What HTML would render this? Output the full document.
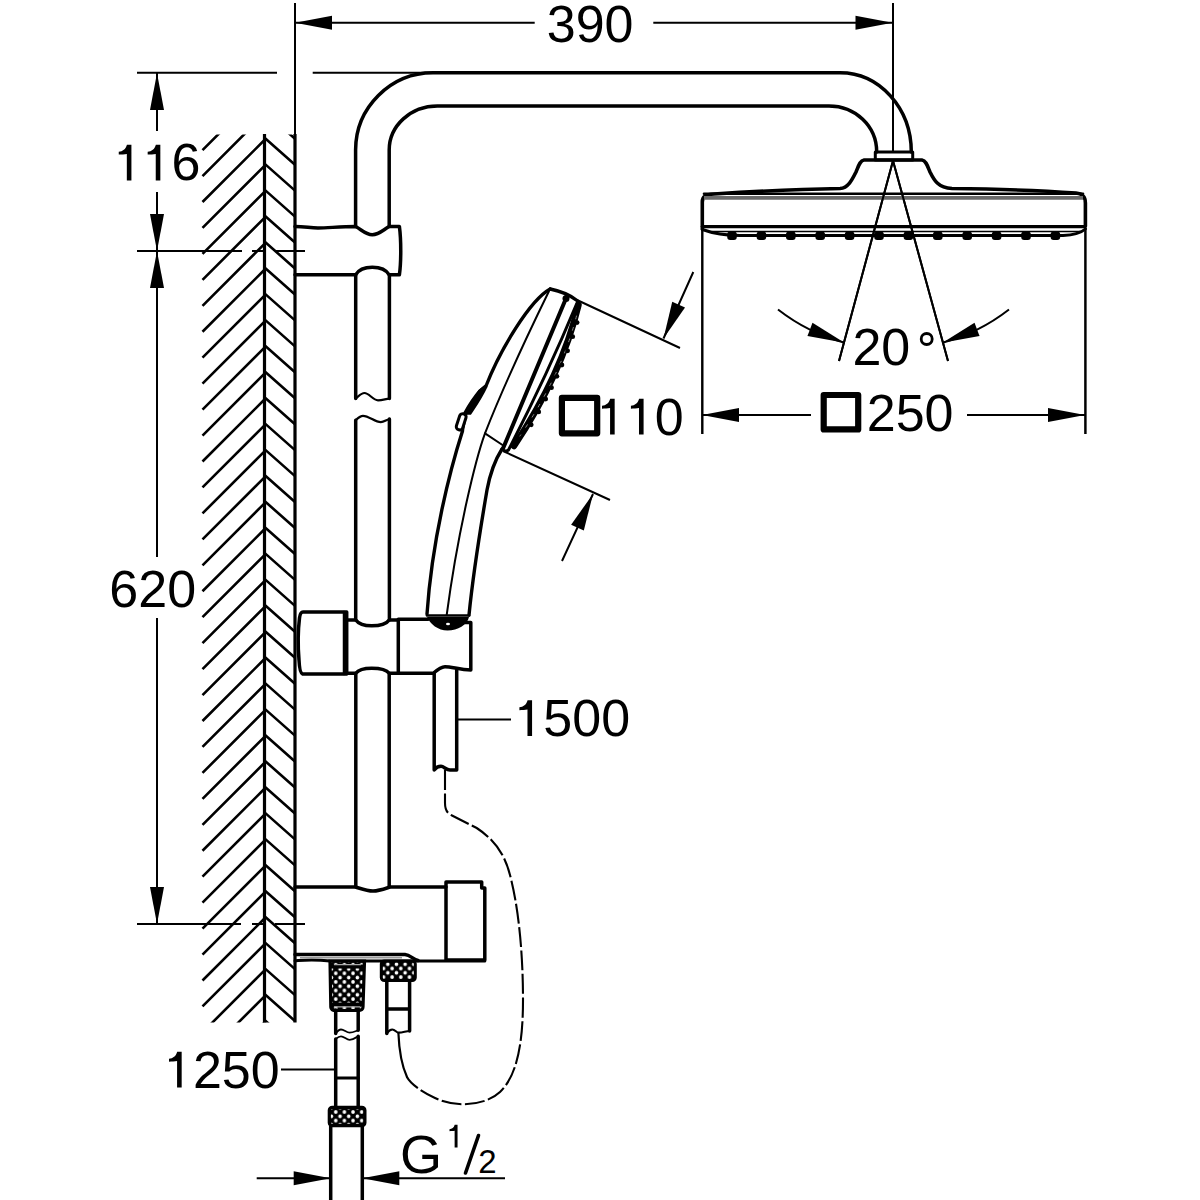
<!DOCTYPE html>
<html><head><meta charset="utf-8"><style>
html,body{margin:0;padding:0;background:#fff;width:1200px;height:1200px;overflow:hidden}
svg{display:block}
</style></head><body>
<svg width="1200" height="1200" viewBox="0 0 1200 1200">
<clipPath id="wc"><rect x="200" y="134.5" width="96" height="888"/></clipPath>
<path clip-path="url(#wc)" d="M202.5 124.15 L264.5 62.15 M202.5 150.10 L264.5 88.10 M202.5 176.05 L264.5 114.05 M202.5 202.00 L264.5 140.00 M202.5 227.95 L264.5 165.95 M202.5 253.90 L264.5 191.90 M202.5 279.85 L264.5 217.85 M202.5 305.80 L264.5 243.80 M202.5 331.75 L264.5 269.75 M202.5 357.70 L264.5 295.70 M202.5 383.65 L264.5 321.65 M202.5 409.60 L264.5 347.60 M202.5 435.55 L264.5 373.55 M202.5 461.50 L264.5 399.50 M202.5 487.45 L264.5 425.45 M202.5 513.40 L264.5 451.40 M202.5 539.35 L264.5 477.35 M202.5 565.30 L264.5 503.30 M202.5 591.25 L264.5 529.25 M202.5 617.20 L264.5 555.20 M202.5 643.15 L264.5 581.15 M202.5 669.10 L264.5 607.10 M202.5 695.05 L264.5 633.05 M202.5 721.00 L264.5 659.00 M202.5 746.95 L264.5 684.95 M202.5 772.90 L264.5 710.90 M202.5 798.85 L264.5 736.85 M202.5 824.80 L264.5 762.80 M202.5 850.75 L264.5 788.75 M202.5 876.70 L264.5 814.70 M202.5 902.65 L264.5 840.65 M202.5 928.60 L264.5 866.60 M202.5 954.55 L264.5 892.55 M202.5 980.50 L264.5 918.50 M202.5 1006.45 L264.5 944.45 M202.5 1032.40 L264.5 970.40 M202.5 1058.35 L264.5 996.35 M202.5 1084.30 L264.5 1022.30 M202.5 1110.25 L264.5 1048.25 M202.5 1136.20 L264.5 1074.20 M202.5 1162.15 L264.5 1100.15 M202.5 1188.10 L264.5 1126.10 M202.5 1214.05 L264.5 1152.05 M264.5 85.80 L295 112.80 M264.5 111.75 L295 138.75 M264.5 137.70 L295 164.70 M264.5 163.65 L295 190.65 M264.5 189.60 L295 216.60 M264.5 215.55 L295 242.55 M264.5 241.50 L295 268.50 M264.5 267.45 L295 294.45 M264.5 293.40 L295 320.40 M264.5 319.35 L295 346.35 M264.5 345.30 L295 372.30 M264.5 371.25 L295 398.25 M264.5 397.20 L295 424.20 M264.5 423.15 L295 450.15 M264.5 449.10 L295 476.10 M264.5 475.05 L295 502.05 M264.5 501.00 L295 528.00 M264.5 526.95 L295 553.95 M264.5 552.90 L295 579.90 M264.5 578.85 L295 605.85 M264.5 604.80 L295 631.80 M264.5 630.75 L295 657.75 M264.5 656.70 L295 683.70 M264.5 682.65 L295 709.65 M264.5 708.60 L295 735.60 M264.5 734.55 L295 761.55 M264.5 760.50 L295 787.50 M264.5 786.45 L295 813.45 M264.5 812.40 L295 839.40 M264.5 838.35 L295 865.35 M264.5 864.30 L295 891.30 M264.5 890.25 L295 917.25 M264.5 916.20 L295 943.20 M264.5 942.15 L295 969.15 M264.5 968.10 L295 995.10 M264.5 994.05 L295 1021.05 M264.5 1020.00 L295 1047.00 M264.5 1045.95 L295 1072.95 M264.5 1071.90 L295 1098.90 M264.5 1097.85 L295 1124.85 M264.5 1123.80 L295 1150.80 M264.5 1149.75 L295 1176.75" stroke="#000" stroke-width="2.6" fill="none"/>
<path d="M264.5 134 V1022.5 M295 134 V1022.5" stroke="#000" stroke-width="3.2" fill="none"/>
<path d="M295 3 V134 M295 22.7 H534.7 M653.3 22.7 H892.5 M893 3 V152 M137 72.7 H277 M312.7 72.7 H436 M157 73 V131 M157 192 V251 M157 251 V557 M157 618 V924 M137 251 H242 M252 251 H266 M276 251 H305 M137 924 H241 M252 924 H266 M275 924 H305 M702.3 228 V434 M1085.4 228 V434 M702 415 H811 M967 415 H1085 M893 160.7 L839 361 M893 160.7 L948 361 M577 300 L680 348 M693.3 272 L663.5 338.5 M503 451 L610 500 M562 561 L593 494 M457.5 719.5 H511 M281 1069.5 H334 M256.7 1178.3 H330.7 M362.3 1178.3 H505" stroke="#000" stroke-width="2.0" fill="none"/>
<path d="M778 309.5 A188.2 188.2 0 0 0 844.5 342.7 M1009 309.5 A188.2 188.2 0 0 1 942.5 342.7" stroke="#000" stroke-width="2.0" fill="none"/>
<path d="M295.00 22.70 L332.00 15.70 L332.00 29.70Z" fill="#000"/><path d="M892.50 22.70 L855.50 29.70 L855.50 15.70Z" fill="#000"/><path d="M157.00 73.00 L164.00 110.00 L150.00 110.00Z" fill="#000"/><path d="M157.00 251.00 L150.00 214.00 L164.00 214.00Z" fill="#000"/><path d="M157.00 251.00 L164.00 288.00 L150.00 288.00Z" fill="#000"/><path d="M157.00 924.00 L150.00 887.00 L164.00 887.00Z" fill="#000"/><path d="M702.00 415.00 L739.00 408.00 L739.00 422.00Z" fill="#000"/><path d="M1085.00 415.00 L1048.00 422.00 L1048.00 408.00Z" fill="#000"/><path d="M663.50 338.50 L672.24 301.87 L685.02 307.60Z" fill="#000"/><path d="M593.00 494.00 L583.82 530.52 L571.11 524.64Z" fill="#000"/><path d="M330.70 1178.30 L293.70 1185.30 L293.70 1171.30Z" fill="#000"/><path d="M362.30 1178.30 L399.30 1171.30 L399.30 1185.30Z" fill="#000"/><path d="M844.50 342.70 L807.46 335.92 L812.49 322.86Z" fill="#000"/><path d="M942.50 342.70 L974.51 322.86 L979.54 335.92Z" fill="#000"/>
<g font-family="Liberation Sans, sans-serif" fill="#000"><text x="546.72" y="41.50" font-size="52">3</text><text x="575.64" y="41.50" font-size="52">9</text><text x="604.56" y="41.50" font-size="52">0</text></g>
<g font-family="Liberation Sans, sans-serif" fill="#000"><path transform="translate(113.75 180.40) scale(0.02539 -0.02539)" d="M515 0 L515 1040 C430 1025 300 1016 197 1016 L197 1130 C350 1145 470 1230 520 1409 L696 1409 L696 0 Z"/><path transform="translate(142.67 180.40) scale(0.02539 -0.02539)" d="M515 0 L515 1040 C430 1025 300 1016 197 1016 L197 1130 C350 1145 470 1230 520 1409 L696 1409 L696 0 Z"/><text x="171.59" y="180.40" font-size="52">6</text></g>
<g font-family="Liberation Sans, sans-serif" fill="#000"><text x="109.36" y="606.50" font-size="52">6</text><text x="138.28" y="606.50" font-size="52">2</text><text x="167.20" y="606.50" font-size="52">0</text></g>
<g font-family="Liberation Sans, sans-serif" fill="#000"><path transform="translate(597.00 434.50) scale(0.02539 -0.02539)" d="M515 0 L515 1040 C430 1025 300 1016 197 1016 L197 1130 C350 1145 470 1230 520 1409 L696 1409 L696 0 Z"/><path transform="translate(625.92 434.50) scale(0.02539 -0.02539)" d="M515 0 L515 1040 C430 1025 300 1016 197 1016 L197 1130 C350 1145 470 1230 520 1409 L696 1409 L696 0 Z"/><text x="654.84" y="434.50" font-size="52">0</text></g>
<g font-family="Liberation Sans, sans-serif" fill="#000"><text x="866.78" y="431.00" font-size="52">2</text><text x="895.70" y="431.00" font-size="52">5</text><text x="924.62" y="431.00" font-size="52">0</text></g>
<g font-family="Liberation Sans, sans-serif" fill="#000"><path transform="translate(514.40 736.00) scale(0.02539 -0.02539)" d="M515 0 L515 1040 C430 1025 300 1016 197 1016 L197 1130 C350 1145 470 1230 520 1409 L696 1409 L696 0 Z"/><text x="543.32" y="736.00" font-size="52">5</text><text x="572.24" y="736.00" font-size="52">0</text><text x="601.16" y="736.00" font-size="52">0</text></g>
<g font-family="Liberation Sans, sans-serif" fill="#000"><path transform="translate(164.00 1087.50) scale(0.02539 -0.02539)" d="M515 0 L515 1040 C430 1025 300 1016 197 1016 L197 1130 C350 1145 470 1230 520 1409 L696 1409 L696 0 Z"/><text x="192.92" y="1087.50" font-size="52">2</text><text x="221.84" y="1087.50" font-size="52">5</text><text x="250.76" y="1087.50" font-size="52">0</text></g>
<g font-family="Liberation Sans, sans-serif" fill="#000"><text x="852.38" y="365.20" font-size="52">2</text><text x="881.30" y="365.20" font-size="52">0</text></g>
<path d="M561.9 397.9 H597.2 V433.3 H561.9 Z" stroke="#000" stroke-width="6.2" fill="none" stroke-linejoin="round"/>
<path d="M823.7 395 H858.2 V429.4 H823.7 Z" stroke="#000" stroke-width="6.2" fill="none" stroke-linejoin="round"/>
<circle cx="926.7" cy="339" r="5.5" stroke="#000" stroke-width="2.8" fill="none"/>
<g font-family="Liberation Sans, sans-serif" fill="#000"><text x="400" y="1173.3" font-size="53" transform="translate(400 0) scale(1.02 1) translate(-400 0)">G</text></g>
<path transform="translate(446.33 1147.5) scale(0.01611 -0.01611)" d="M515 0 L515 1040 C430 1025 300 1016 197 1016 L197 1130 C350 1145 470 1230 520 1409 L696 1409 L696 0 Z" fill="#000"/>
<path d="M465.5 1173 L478.5 1135.5" stroke="#000" stroke-width="3.6" fill="none" stroke-linejoin="round" stroke-linecap="round" stroke-linecap="butt"/>
<g font-family="Liberation Sans, sans-serif" fill="#000"><text x="478.3" y="1172.5" font-size="33">2</text></g>
<path d="M355.6 226.5 V150 C355.6 107.5 390.5 72.7 433 72.7 H840 C879.4 72.7 911.3 107.9 911.3 152" stroke="#000" stroke-width="3.5" fill="none" stroke-linejoin="round" stroke-linecap="round" />
<path d="M389.2 226.5 V150 C389.2 125.7 410.8 106 437.3 106 H829 C855.3 106 876.7 126.1 876.7 152" stroke="#000" stroke-width="3.5" fill="none" stroke-linejoin="round" stroke-linecap="round" />
<path d="M875.3 152 H912.7 V160 H875.3 Z" stroke="#000" stroke-width="3.0" fill="none" stroke-linejoin="round" stroke-linecap="round" />
<path d="M355.7 274.8 V398.5 M389.4 274.8 V398.5" stroke="#000" stroke-width="3.5" fill="none" stroke-linejoin="round" stroke-linecap="round" />
<path d="M355.7 398.5 C359 396 361 393 364.5 393 C369 393 373 400.3 378 400.3 C383 400.3 386 398.6 389.4 398.6" stroke="#000" stroke-width="2.2" fill="none" stroke-linejoin="round" stroke-linecap="round" />
<path d="M355.7 420.2 C358 418 360 415.8 363 415.8 C369 415.8 375 422.2 380.8 422.2 C384 422.2 386 420 389.4 419" stroke="#000" stroke-width="2.2" fill="none" stroke-linejoin="round" stroke-linecap="round" />
<path d="M355.7 420.2 V620 M389.4 419 V620" stroke="#000" stroke-width="3.5" fill="none" stroke-linejoin="round" stroke-linecap="round" />
<path d="M355.8 673.3 V887 M389.2 673.3 V887" stroke="#000" stroke-width="3.5" fill="none" stroke-linejoin="round" stroke-linecap="round" />
<path d="M295 226.5 C305 226.5 310 228 318 228 C328 228 340 226.5 355.6 226.5 C362 230 366 234.7 372.3 234.7 C379 234.7 383 230 389.2 226.5 H399.4 C401.2 240 401.2 262 399.4 274.8 H389.2 C386.3 269.8 380.6 267.2 372.3 267.2 C364 267.2 358.5 269.8 355.6 274.8 H295" stroke="#000" stroke-width="3.5" fill="none" stroke-linejoin="round" stroke-linecap="round" />
<path d="M303 612 H346.7 V674 H302.5 C300.5 673.5 299.5 670 299 660 C298 648 298.3 628 299.5 618 C300 614 301 612 303 612 Z" stroke="#000" stroke-width="3.5" fill="none" stroke-linejoin="round" stroke-linecap="round" />
<path d="M344 612 V674" stroke="#000" stroke-width="2.5" fill="none" stroke-linejoin="round" stroke-linecap="round" />
<path d="M346.7 620 H355.8 C358.6 624 364 625.8 371.7 625.8 C379.4 625.8 386.4 624 389.2 620 H398.3 V673.3 H389.2 C386.4 669.6 379.4 668.3 371.7 668.3 C364 668.3 358.6 669.6 355.8 673.3 H346.7" stroke="#000" stroke-width="3.5" fill="none" stroke-linejoin="round" stroke-linecap="round" />
<path d="M398.3 619.2 H428.3 M398.3 673.3 H433.3 C437 670 441 666.7 445 666.7 C452 666.7 460 670 470.8 670 V622.5 H463" stroke="#000" stroke-width="3.5" fill="none" stroke-linejoin="round" stroke-linecap="round" />
<path d="M427 617 H469 C467 625 458 630.5 447.5 630.5 C438 630.5 430 624 427 617 Z" fill="#000"/>
<ellipse cx="448" cy="624" rx="2" ry="1.2" fill="#fff"/>
<path d="M434.2 673.3 V770 C436 767.5 438.5 766.3 441 766.3 C444 766.3 446 770 450 770 H456.7 V670" stroke="#000" stroke-width="3.5" fill="none" stroke-linejoin="round" stroke-linecap="round" />
<path d="M445 770 V803 C445 810 447 813 452 815.5 L476.7 828 C495 840 505 855 510 875 C518 905 523 950 523 1000 C523 1040 518 1075 500 1092 C485 1106 455 1108 435 1098 C420 1091 410 1083 407 1077" stroke="#000" stroke-width="2.1" fill="none" stroke-dasharray="20 3.5"/>
<path d="M398.4 1033 C399 1048 401 1064 407 1077" stroke="#000" stroke-width="2.2" fill="none" stroke-linejoin="round" stroke-linecap="round" />
<path d="M295 887 H355.6 C362 889 367 891 373 891 C379 891 384 889 390 887 H446" stroke="#000" stroke-width="3.5" fill="none" stroke-linejoin="round" stroke-linecap="round" />
<path d="M446 882 H481.7 V888 H484.8 V960 H446 V882 Z" stroke="#000" stroke-width="3.5" fill="none" stroke-linejoin="round" stroke-linecap="round" />
<path d="M295 954.6 H405 C410 955 413 959 418 960.5" stroke="#000" stroke-width="3.5" fill="none" stroke-linejoin="round" stroke-linecap="round" />
<path d="M295 960.8 C305 960 312 959 330 961 H484.8" stroke="#000" stroke-width="3.0" fill="none" stroke-linejoin="round" stroke-linecap="round" />
<path d="M300 957.7 H402" stroke="#999" stroke-width="1.5"/>
<defs><pattern id="kn1" x="335.75" y="973.3" width="8.65" height="8.6" patternUnits="userSpaceOnUse"><rect x="-1" y="-1" width="11" height="11" fill="#000"/><circle cx="0" cy="0" r="1.8" fill="#fff"/><circle cx="8.65" cy="0" r="1.8" fill="#fff"/><circle cx="0" cy="8.6" r="1.8" fill="#fff"/><circle cx="8.65" cy="8.6" r="1.8" fill="#fff"/><circle cx="4.325" cy="4.3" r="1.8" fill="#fff"/></pattern></defs>
<defs><pattern id="kn2" x="335.75" y="1112" width="8.65" height="8.6" patternUnits="userSpaceOnUse"><rect x="-1" y="-1" width="11" height="11" fill="#000"/><circle cx="0" cy="0" r="1.8" fill="#fff"/><circle cx="8.65" cy="0" r="1.8" fill="#fff"/><circle cx="0" cy="8.6" r="1.8" fill="#fff"/><circle cx="8.65" cy="8.6" r="1.8" fill="#fff"/><circle cx="4.325" cy="4.3" r="1.8" fill="#fff"/></pattern></defs>
<defs><pattern id="kn3" x="383.5" y="968.5" width="8.65" height="8.6" patternUnits="userSpaceOnUse"><rect x="-1" y="-1" width="11" height="11" fill="#000"/><circle cx="0" cy="0" r="1.8" fill="#fff"/><circle cx="8.65" cy="0" r="1.8" fill="#fff"/><circle cx="0" cy="8.6" r="1.8" fill="#fff"/><circle cx="8.65" cy="8.6" r="1.8" fill="#fff"/><circle cx="4.325" cy="4.3" r="1.8" fill="#fff"/></pattern></defs>
<path d="M330 961 H364.5 L363 1007 C363 1009.5 361 1010.5 358 1010.5 H336 C333 1010.5 331 1009.5 330.8 1007 Z" fill="url(#kn1)" stroke="#000" stroke-width="3.2"/>
<path d="M331 966.5 H363.5 M331.5 1004.5 H362.5" stroke="#000" stroke-width="4"/>
<path d="M334 964.6 H361 M334 1006.9 H360" stroke="#aaa" stroke-width="1.2"/>
<path d="M335.7 1010 V1033.5 M358.2 1010 V1030.3" stroke="#000" stroke-width="3.5" fill="none" stroke-linejoin="round" stroke-linecap="round" />
<path d="M335.7 1033.5 C337.5 1031 339 1029.5 341 1029.5 C344 1029.5 346.5 1032.7 349.6 1032.7 C353 1032.7 356 1031 358.2 1030.3" stroke="#000" stroke-width="1.8" fill="none" stroke-linejoin="round" stroke-linecap="round" />
<path d="M335.7 1039 C337.5 1037.5 339 1036.3 341 1036.3 C344 1036.3 346.5 1039.8 349.6 1039.8 C353 1039.8 356 1037.5 358.2 1036.3" stroke="#000" stroke-width="1.8" fill="none" stroke-linejoin="round" stroke-linecap="round" />
<path d="M335.7 1039 V1106 M358.2 1036.3 V1106" stroke="#000" stroke-width="3.5" fill="none" stroke-linejoin="round" stroke-linecap="round" />
<path d="M335.7 1078 H358.2" stroke="#000" stroke-width="3.0" fill="none" stroke-linejoin="round" stroke-linecap="round" />
<rect x="329.3" y="1107.3" width="35.6" height="18.4" rx="3" fill="url(#kn2)" stroke="#000" stroke-width="3.2"/>
<path d="M330.7 1126 V1200 M362.3 1126 V1200" stroke="#000" stroke-width="3.5" fill="none" stroke-linejoin="round" stroke-linecap="round" />
<rect x="381.3" y="961" width="34" height="19.5" rx="3" fill="url(#kn3)" stroke="#000" stroke-width="3"/>
<path d="M386.8 981.4 V1033.5 M409.6 981.4 V1031 M386.8 1009 H409.6" stroke="#000" stroke-width="3.5" fill="none" stroke-linejoin="round" stroke-linecap="round" />
<path d="M386.8 1033.5 C388.5 1031 390.5 1029.5 392.3 1029.5 C395 1029.5 396.5 1032.7 398.6 1032.7 C403 1032.7 406 1031 409.6 1031" stroke="#000" stroke-width="2.2" fill="none" stroke-linejoin="round" stroke-linecap="round" />
<path d="M702.3 229 V202 C702.3 196 706 194.5 714 194 C760 191 810 189 840 188.5 C848 188 852 180 856 172 C858.5 166 860 160.5 864 160 H922 C926 160.5 927.5 166 930 172 C934 180 938 188 952 188.5 C990 189 1040 190.5 1076 193 C1082 193.5 1085.4 197 1085.4 203 V226" stroke="#000" stroke-width="3.6" fill="none" stroke-linejoin="round" stroke-linecap="round" />
<path d="M702.3 226.6 H1085.4" stroke="#000" stroke-width="3.2" fill="none" stroke-linejoin="round" stroke-linecap="round" />
<path d="M704 197.9 H1083" stroke="#6a6a6a" stroke-width="3.6"/>
<path d="M704 193.7 H1083" stroke="#000" stroke-width="2.6" fill="none" stroke-linejoin="round" stroke-linecap="round" />
<path d="M702.3 229.5 C712 233 725 235.5 740 235.5 H1063 C1075 235 1082 232 1085.4 229" stroke="#000" stroke-width="3.0" fill="none" stroke-linejoin="round" stroke-linecap="round" />
<path d="M712 231.5 H1080" stroke="#000" stroke-width="1.4" fill="none" stroke-linejoin="round" stroke-linecap="round" />
<rect x="727.2" y="231.5" width="9.6" height="8.5" rx="3" fill="#000"/>
<rect x="756.6" y="231.5" width="9.6" height="8.5" rx="3" fill="#000"/>
<rect x="786.0" y="231.5" width="9.6" height="8.5" rx="3" fill="#000"/>
<rect x="815.4" y="231.5" width="9.6" height="8.5" rx="3" fill="#000"/>
<rect x="844.8" y="231.5" width="9.6" height="8.5" rx="3" fill="#000"/>
<rect x="874.2" y="231.5" width="9.6" height="8.5" rx="3" fill="#000"/>
<rect x="903.6" y="231.5" width="9.6" height="8.5" rx="3" fill="#000"/>
<rect x="933.0" y="231.5" width="9.6" height="8.5" rx="3" fill="#000"/>
<rect x="962.4" y="231.5" width="9.6" height="8.5" rx="3" fill="#000"/>
<rect x="991.8" y="231.5" width="9.6" height="8.5" rx="3" fill="#000"/>
<rect x="1021.2" y="231.5" width="9.6" height="8.5" rx="3" fill="#000"/>
<rect x="1050.6" y="231.5" width="9.6" height="8.5" rx="3" fill="#000"/>
<path d="M550.2 289 C530 300 500 350 486 386 L480 391 C474 400 470 406 466 413" stroke="#000" stroke-width="3.4" fill="none" stroke-linejoin="round" stroke-linecap="round" />
<path d="M480 391 C474 398 469 406 465 413 L470 413 C476 404 481 397 486 386 Z" fill="#000" stroke="#000" stroke-width="3.5"/>
<path d="M466 413 L462.5 431" stroke="#000" stroke-width="3.0" fill="none" stroke-linejoin="round" stroke-linecap="round" />
<rect x="-3.3" y="-8.3" width="6.6" height="16.6" rx="3" transform="translate(461.2 421.8) rotate(18)" fill="#fff" stroke="#000" stroke-width="3"/>
<path d="M462.5 431 C450 470 432 540 427 614" stroke="#000" stroke-width="3.4" fill="none" stroke-linejoin="round" stroke-linecap="round" />
<path d="M548.8 291.5 C530 330 500 395 485 433.3 C476 458 458 530 446.7 615" stroke="#000" stroke-width="2.0" fill="none" stroke-linejoin="round" stroke-linecap="round" />
<path d="M485 433.3 L502.5 445" stroke="#000" stroke-width="2.0" fill="none" stroke-linejoin="round" stroke-linecap="round" />
<path d="M502 449 C495 460 490 474 487 490 C481 525 473 575 469 615" stroke="#000" stroke-width="3.4" fill="none" stroke-linejoin="round" stroke-linecap="round" />
<path d="M427 615.5 H469" stroke="#000" stroke-width="2.6" fill="none" stroke-linejoin="round" stroke-linecap="round" />
<path d="M550.2 289 C560 291 570 295 577 300.5 C579 303 579.5 306 578.3 309" stroke="#000" stroke-width="3.4" fill="none" stroke-linejoin="round" stroke-linecap="round" />
<path d="M566.6 297 L503 448.6" stroke="#000" stroke-width="4.0" fill="none" stroke-linejoin="round" stroke-linecap="round" />
<circle cx="566" cy="298.5" r="3.5" fill="#000"/>
<path d="M577 303 Q547.85 373.5 508.5 450 C506 452 504 451 502 449" stroke="#000" stroke-width="3.0" fill="none" stroke-linejoin="round" stroke-linecap="round" />
<path d="M578.5 305 Q561.75 374.5 514 446" stroke="#000" stroke-width="6.5" fill="none" stroke-linejoin="round" stroke-linecap="round" />
<path d="M576.5 316 Q561.5 374.5 520 436" stroke="#888" stroke-width="1.0" fill="none" stroke-linejoin="round" stroke-linecap="round" stroke-dasharray="3 9"/>
<circle cx="577.1" cy="322.6" r="2.4" fill="#000"/>
<circle cx="572.7" cy="336.7" r="2.4" fill="#000"/>
<circle cx="567.6" cy="350.8" r="2.4" fill="#000"/>
<circle cx="561.9" cy="365.0" r="2.4" fill="#000"/>
<circle cx="556.9" cy="376.3" r="2.4" fill="#000"/>
<circle cx="551.5" cy="387.7" r="2.4" fill="#000"/>
<circle cx="545.7" cy="399.1" r="2.4" fill="#000"/>
<circle cx="538.7" cy="411.9" r="2.4" fill="#000"/>
<circle cx="531.2" cy="424.8" r="2.4" fill="#000"/>
<path d="M893 160.7 L839 361 M893 160.7 L948 361 M702.3 228 V434 M1085.4 228 V434" stroke="#000" stroke-width="2" fill="none"/>
</svg>
</body></html>
